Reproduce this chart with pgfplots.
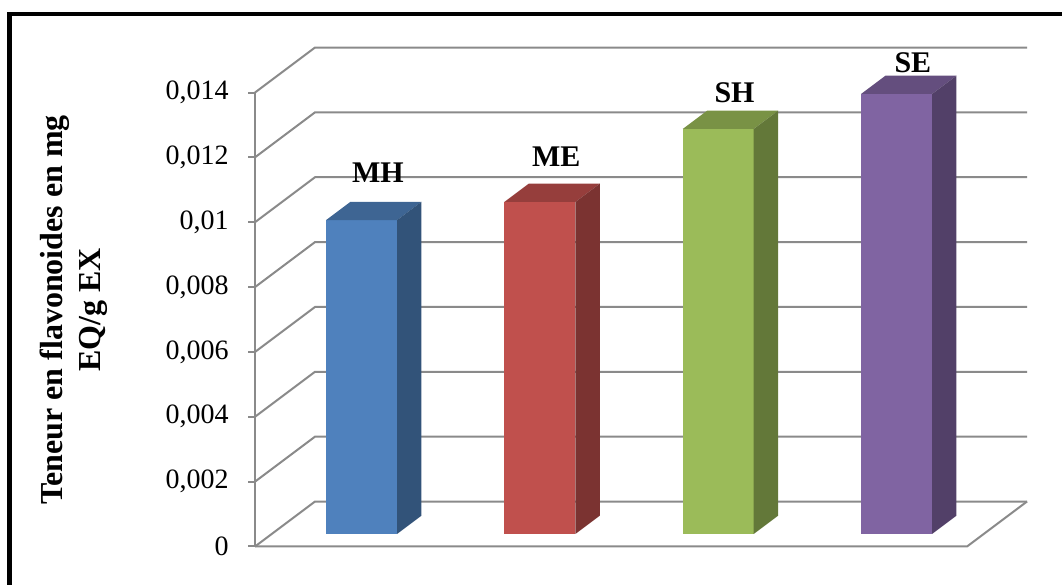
\documentclass[border=0pt]{standalone}
\usepackage{pgfplots}
\pgfplotsset{compat=1.18}
\usepackage{pgfplotstable}
\usepackage{fontspec}
\setmainfont{Liberation Serif}

\definecolor{mhcol}{HTML}{4F81BD}
\definecolor{mecol}{HTML}{C0504D}
\definecolor{shcol}{HTML}{9BBB59}
\definecolor{secol}{HTML}{8064A2}
\definecolor{gridgray}{RGB}{138,138,138}

% flavonoid content (mg EQ / g extract)
\pgfplotstableread{
idx name value color
0 MH 0.00968 mhcol
1 ME 0.01024 mecol
2 SH 0.01249 shcol
3 SE 0.01357 secol
}\flavdata

% one 3-D column: #1 left x, #2 right x, #3 value, #4 colour, #5 centre x, #6 label y, #7 name
\newcommand\drawbar[7]{%
  \fill[#4] ([shift={(8.34pt,6.25pt)}]axis cs:#1,0) rectangle ([shift={(8.34pt,6.25pt)}]axis cs:#2,#3);
  \fill[#4!78!black] ([shift={(8.34pt,6.25pt)}]axis cs:#1,#3) -- ([shift={(8.34pt,6.25pt)}]axis cs:#2,#3)
     -- ([shift={(20.54pt,15.4pt)}]axis cs:#2,#3) -- ([shift={(20.54pt,15.4pt)}]axis cs:#1,#3) -- cycle;
  \fill[#4!64!black] ([shift={(8.34pt,6.25pt)}]axis cs:#2,0) -- ([shift={(8.34pt,6.25pt)}]axis cs:#2,#3)
     -- ([shift={(20.54pt,15.4pt)}]axis cs:#2,#3) -- ([shift={(20.54pt,15.4pt)}]axis cs:#2,0) -- cycle;
  \node[font=\bfseries\fontsize{15}{17}\selectfont, anchor=base, inner sep=0pt]
     at ([xshift=16.5pt]axis cs:#5,#6) {#7};
}

\begin{document}
\begin{tikzpicture}
\begin{axis}[
  scale only axis,
  width=356pt, height=227pt,
  xmin=-0.504, xmax=3.4885,
  ymin=0, ymax=0.014,
  hide x axis,
  axis y line*=left,
  axis line style={gridgray, line width=1pt},
  ytick={0,0.002,0.004,0.006,0.008,0.01,0.012,0.014},
  yticklabels={0,{0,002},{0,004},{0,006},{0,008},{0,01},{0,012},{0,014}},
  scaled y ticks=false,
  tick align=outside,
  major tick length=3.5pt,
  tick style={gridgray, line width=1pt},
  yticklabel style={font=\fontsize{14}{16}\selectfont, anchor=east, inner sep=0pt, xshift=-9.5pt},
  ylabel={Teneur en flavonoides en mg\\EQ/g EX},
  ylabel style={at={(rel axis cs:-0.2542,0.5209)}, anchor=center, align=center,
                font=\bfseries\fontsize{16}{19}\selectfont},
  clip=false,
]
% back wall and left wall gridlines
\pgfplotsinvokeforeach{0,0.002,0.004,0.006,0.008,0.01,0.012,0.014}{
  \draw[gridgray, line width=1pt] (axis cs:-0.504,#1) -- ++(30pt,22.5pt)
     -- ([shift={(30pt,22.5pt)}]axis cs:3.4885,#1);
}
% floor front edge and right edge
\draw[gridgray, line width=1pt] (axis cs:-0.504,0) -- (axis cs:3.4885,0) -- ++(30pt,22.5pt);

% columns
\pgfplotsinvokeforeach{0,1,2,3}{%
  \pgfplotstablegetelem{#1}{value}\of\flavdata \let\barval\pgfplotsretval
  \pgfplotstablegetelem{#1}{name}\of\flavdata \let\barname\pgfplotsretval
  \pgfplotstablegetelem{#1}{color}\of\flavdata \let\barcol\pgfplotsretval
  \pgfmathsetmacro\xl{#1-0.199}%
  \pgfmathsetmacro\xr{#1+0.199}%
  \pgfmathsetmacro\ly{0.873*\barval+0.002788}%
  \edef\doit{\noexpand\drawbar{\xl}{\xr}{\barval}{\barcol}{#1}{\ly}{\barname}}%
  \doit
}

% chart frame
\draw[black, line width=2.2pt] (axis cs:-1.8797,-0.003) -- (axis cs:-1.8797,0.016421) -- (axis cs:4.3,0.016421);

\coordinate (bbSW) at (axis cs:-1.934,-0.001187);
\coordinate (bbNE) at (axis cs:4.0212,0.016853);
\end{axis}
\pgfresetboundingbox
\path[use as bounding box] (bbSW) rectangle (bbNE);
\end{tikzpicture}
\end{document}
